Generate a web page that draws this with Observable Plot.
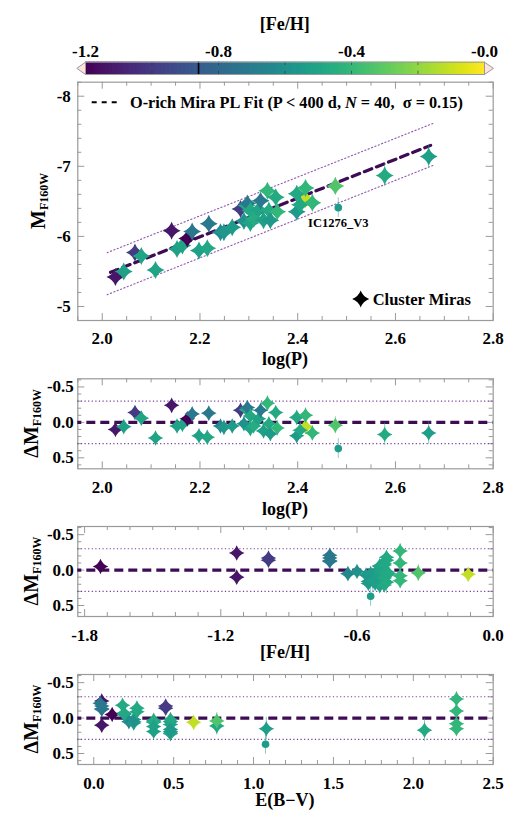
<!DOCTYPE html>
<html><head><meta charset="utf-8">
<script src="https://cdn.jsdelivr.net/npm/d3@7"></script>
<script src="https://cdn.jsdelivr.net/npm/@observablehq/plot@0.6"></script>
<style>
html,body{margin:0;padding:0;background:#fff;}
#root{position:relative;width:518px;height:822px;overflow:hidden;background:#fff;}
#root svg{position:absolute;left:0;}
</style></head><body><div id="root"></div>
<script>
// ---------------- data ----------------
const logP     = [2.416,2.027,2.044,2.067,2.080,2.109,2.142,2.153,2.164,2.174,2.184,2.198,2.215,2.218,2.242,2.249,2.266,2.283,2.290,2.295,2.297,2.303,2.303,2.310,2.320,2.324,2.330,2.338,2.341,2.344,2.355,2.358,2.398,2.398,2.405,2.416,2.430,2.477,2.578,2.668];
const magF160W = [-6.53,-5.42,-5.50,-5.77,-5.72,-5.52,-6.08,-5.82,-5.87,-5.97,-6.07,-5.80,-5.83,-6.18,-6.06,-6.06,-6.13,-6.39,-6.22,-6.44,-6.47,-6.37,-6.19,-6.25,-6.38,-6.51,-6.23,-6.65,-6.37,-6.23,-6.56,-6.35,-6.61,-6.35,-6.45,-6.69,-6.48,-6.72,-6.87,-7.14];
const dMag     = [0.06,0.10,0.06,-0.14,-0.06,0.22,-0.24,0.05,0.03,-0.05,-0.12,0.19,0.21,-0.13,0.05,0.07,0.05,-0.17,0.02,-0.18,-0.21,-0.09,0.09,0.05,-0.05,-0.17,0.12,-0.27,0.02,0.16,-0.14,0.08,-0.07,0.19,0.11,-0.10,0.15,0.04,0.17,0.15];
const feh      = [-0.11,-1.13,-0.52,-0.99,-0.50,-0.50,-1.13,-0.52,-0.50,-1.73,-0.72,-0.52,-0.48,-0.72,-0.64,-0.56,-0.54,-0.99,-0.60,-0.47,-0.72,-0.48,-0.50,-0.46,-0.50,-0.72,-0.52,-0.41,-0.47,-0.55,-0.47,-0.41,-0.48,-0.55,-0.48,-0.41,-0.41,-0.33,-0.47,-0.53];
const ebv      = [0.625,0.05,0.375,0.45,0.19,0.48,0.05,0.25,0.375,0.115,0.05,0.375,0.48,0.05,0.22,0.25,0.48,0.45,0.25,0.18,0.04,0.27,0.48,0.375,0.19,0.05,0.375,2.27,0.48,0.48,0.27,2.27,0.19,0.48,0.77,2.27,2.27,0.77,2.07,1.08];
const magErr   = [0.08,0.08,0.08,0.08,0.08,0.08,0.08,0.08,0.08,0.08,0.08,0.08,0.08,0.08,0.08,0.08,0.08,0.08,0.08,0.08,0.08,0.08,0.08,0.08,0.08,0.08,0.08,0.10,0.08,0.08,0.08,0.10,0.08,0.08,0.13,0.10,0.10,0.12,0.16,0.16];

const icName = "IC1276_V3";
const icLogP = 2.483, icMag = -6.41, icDMag = 0.37, icFeh = -0.54, icEbv = 1.075, icErr = 0.14;

// PL fit (P < 400 d, N = 40, sigma = 0.15)
const fitPivot = 2.3, fitZero = -6.27, fitSlope = -2.765, fitBand = 0.3;
const fitLogP = [2.017, 2.672];
const bandLogP = [2.01, 2.68];

// axes
const logPTicks = [2.0, 2.2, 2.4, 2.6, 2.8];
const magTicks = [-8, -7, -6, -5];
const resTicks = [-0.5, 0.0, 0.5];
const fehTicks = [-1.8, -1.2, -0.6, 0.0];
const ebvTicks = [0.0, 0.5, 1.0, 1.5, 2.0, 2.5];
const cbarTicks = [-1.2, -0.8, -0.4, 0.0];
const cbarMark = -0.86;

// ---------------- helpers ----------------
const SERIF = "'Liberation Serif','Times New Roman',serif";
const FRAME = "#9a9a9a";
const W = 518, ML = 77.3, MR = 25.3, FW = W - ML - MR;
const colorScale = {type: "linear", scheme: "viridis", domain: [-1.2, 0], clamp: true};
const baseStyle = {fontFamily: SERIF, fontWeight: "bold", fontSize: "17px", color: "black", background: "transparent", overflow: "visible"};

const stars = logP.map((p, i) => ({logP: p, mag: magF160W[i], dMag: dMag[i], feh: feh[i], ebv: ebv[i], err: magErr[i]}));
const ic = [{logP: icLogP, mag: icMag, dMag: icDMag, feh: icFeh, ebv: icEbv, err: icErr, name: icName}];

const star4 = {
  draw(ctx, size) {
    const r = Math.sqrt(size / Math.PI), k = 0.27 * r;
    ctx.moveTo(0, -r);
    ctx.quadraticCurveTo(k, -k, r, 0);
    ctx.quadraticCurveTo(k, k, 0, r);
    ctx.quadraticCurveTo(-k, k, -r, 0);
    ctx.quadraticCurveTo(-k, -k, 0, -r);
    ctx.closePath();
  }
};

function minor(domain, step, majors) {
  const lo = Math.min(...domain), hi = Math.max(...domain);
  const out = [];
  for (let v = Math.ceil(lo / step - 1e-9) * step; v <= hi + 1e-9; v += step) {
    const r = Math.round(v * 1000) / 1000;
    if (!majors.some(m => Math.abs(m - r) < 1e-6)) out.push(r);
  }
  return out;
}

function frameTicks(xMaj, xMin, yMaj, yMin, fh) {
  const L = 7, l = 4, o = {stroke: FRAME, strokeWidth: 1};
  return [
    Plot.tickX(xMaj, {...o, insetTop: fh - L}), Plot.tickX(xMaj, {...o, insetBottom: fh - L}),
    Plot.tickX(xMin, {...o, insetTop: fh - l}), Plot.tickX(xMin, {...o, insetBottom: fh - l}),
    Plot.tickY(yMaj, {...o, insetRight: FW - L}), Plot.tickY(yMaj, {...o, insetLeft: FW - L}),
    Plot.tickY(yMin, {...o, insetRight: FW - l}), Plot.tickY(yMin, {...o, insetLeft: FW - l}),
    Plot.frame({stroke: FRAME, strokeWidth: 1.2})
  ];
}

function addText(svg, x, y, parts, size, opts = {}) {
  const t = d3.select(svg).append("text")
    .attr("font-family", SERIF).attr("font-weight", "bold")
    .attr("font-size", size).attr("text-anchor", opts.anchor || "middle")
    .attr("fill", "black").style("white-space", "pre");
  if (opts.rotate) t.attr("transform", `translate(${x},${y}) rotate(-90)`);
  else t.attr("x", x).attr("y", y);
  for (const p of parts) {
    const s = t.append("tspan").text(p.text);
    if (p.size) s.attr("font-size", p.size);
    if (p.italic) s.attr("font-style", "italic");
    if (p.dy) s.attr("dy", p.dy);
  }
}

const root = document.getElementById("root");
function place(svg, top) { svg.style.top = top + "px"; root.appendChild(svg); }

// ---------------- colour bar ----------------
const cbStep = 0.004;
const cbCells = d3.range(-1.2, 0 - 1e-9, cbStep);
const cbar = Plot.plot({
  width: W, height: 80, marginLeft: 85, marginRight: 34, marginTop: 61.7, marginBottom: 6,
  style: baseStyle,
  x: {domain: [-1.2, 0]}, y: {domain: [0, 1], axis: null},
  color: colorScale,
  marks: [
    Plot.rect(cbCells, {x1: d => d, x2: d => Math.min(0, d + cbStep * 1.6), y1: 0, y2: 1, fill: d => d + cbStep / 2}),
    Plot.line([[-1.2, 0], [-1.226, 0.5], [-1.2, 1]], {x: d => d[0], y: d => d[1], fill: "#fde2de", stroke: FRAME, strokeWidth: 1}),
    Plot.line([[0, 0], [0.027, 0.5], [0, 1]], {x: d => d[0], y: d => d[1], fill: "#fde2de", stroke: FRAME, strokeWidth: 1}),
    Plot.tickX(minor([-1.2, 0], 0.2, [-1.2, 0]), {stroke: "#333", strokeOpacity: 0.6, insetTop: 9}),
    Plot.tickX(minor([-1.2, 0], 0.2, [-1.2, 0]), {stroke: "#333", strokeOpacity: 0.6, insetBottom: 9}),
    Plot.ruleX([cbarMark], {stroke: "black", strokeWidth: 1.6}),
    Plot.frame({stroke: FRAME, strokeWidth: 1}),
    Plot.axisX(cbarTicks, {anchor: "top", tickSize: 0, tickPadding: 5, label: null,
      tickFormat: d => d === 0 ? "-0.0" : d.toFixed(1)})
  ]
});
addText(cbar, 284.7, 29.5, [{text: "[Fe/H]"}], 18);
place(cbar, 0);

// ---------------- main PL panel ----------------
const MAIN_TOP = 70, mainMT = 11.7, mainFH = 238.3;
const fitY = d => fitZero + fitSlope * (d - fitPivot);
const main = Plot.plot({
  width: W, height: mainMT + mainFH + 54, marginTop: mainMT, marginBottom: 54, marginLeft: ML, marginRight: MR,
  style: baseStyle,
  x: {domain: [1.95, 2.8]}, y: {domain: [-4.8, -8.2]},
  color: colorScale,
  marks: [
    ...frameTicks(logPTicks, minor([1.95, 2.8], 0.05, logPTicks), magTicks, minor([-4.8, -8.2], 0.2, magTicks), mainFH),
    Plot.axisX(logPTicks, {tickSize: 0, tickPadding: 11, label: null, tickFormat: d => d.toFixed(1)}),
    Plot.axisY(magTicks, {tickSize: 0, tickPadding: 7, label: null, tickFormat: d => String(d)}),
    Plot.line(bandLogP, {x: d => d, y: d => fitY(d) - fitBand, stroke: "#8f55b0", strokeWidth: 1.1, strokeDasharray: "1.2,2.4"}),
    Plot.line(bandLogP, {x: d => d, y: d => fitY(d) + fitBand, stroke: "#8f55b0", strokeWidth: 1.1, strokeDasharray: "1.2,2.4"}),
    Plot.line(fitLogP, {x: d => d, y: fitY, stroke: "#3e0b55", strokeWidth: 3.2, strokeDasharray: "8,5"}),
    Plot.ruleX(stars, {x: "logP", y1: d => d.mag - d.err, y2: d => d.mag + d.err, stroke: "feh", strokeOpacity: 0.55}),
    Plot.dot(stars, {x: "logP", y: "mag", symbol: star4, r: 9, fill: "feh", stroke: null}),
    Plot.ruleX(ic, {x: "logP", y1: d => d.mag - d.err, y2: d => d.mag + d.err, stroke: "feh", strokeOpacity: 0.5}),
    Plot.dot(ic, {x: "logP", y: "mag", r: 3.8, fill: "feh", stroke: null}),
    Plot.text(ic, {x: "logP", y: "mag", text: "name", dy: 15, fontSize: 12.5, fontWeight: "bold", fill: "black"})
  ]
});
{
  const s = d3.select(main), T = MAIN_TOP;
  s.append("line").attr("x1", 91.7).attr("x2", 116.7).attr("y1", 102.3 - T).attr("y2", 102.3 - T)
    .attr("stroke", "black").attr("stroke-width", 2).attr("stroke-dasharray", "5,5");
  addText(main, 130, 107.5 - T, [{text: "O-rich Mira PL Fit (P < 400 d, "}, {text: "N", italic: true}, {text: " = 40,  σ = 0.15)"}], 16.3, {anchor: "start"});
  s.append("path").attr("d", d3.symbol().type(star4).size(Math.PI * 8.5 * 8.5)())
    .attr("transform", `translate(360.7,${299 - T})`).attr("fill", "black");
  addText(main, 372.7, 305 - T, [{text: "Cluster Miras"}], 16.5, {anchor: "start"});
  addText(main, 45, mainMT + mainFH / 2, [{text: "M"}, {text: "F160W", size: 12, dy: 3}], 20, {rotate: true});
  addText(main, ML + FW / 2, mainMT + mainFH + 45, [{text: "log(P)"}], 18);
}
place(main, MAIN_TOP);

// ---------------- residual panels ----------------
const resDomain = [0.655, -0.615];
function residualPanel(top, mt, xKey, xDomain, xTicks, xMinorStep, xLabel, labelGap) {
  const FH = 90;
  const svg = Plot.plot({
    width: W, height: mt + FH + 56, marginTop: mt, marginBottom: 56, marginLeft: ML, marginRight: MR,
    style: baseStyle,
    x: {domain: xDomain}, y: {domain: resDomain},
    color: colorScale,
    marks: [
      ...frameTicks(xTicks, minor(xDomain, xMinorStep, xTicks), resTicks, minor(resDomain, 0.1, resTicks), FH),
      Plot.axisX(xTicks, {tickSize: 0, tickPadding: 12, label: null, tickFormat: d => d.toFixed(1)}),
      Plot.axisY(resTicks, {tickSize: 0, tickPadding: 4, label: null, tickFormat: d => d.toFixed(1)}),
      Plot.ruleY([-fitBand, fitBand], {stroke: "#7a3c9c", strokeWidth: 1.1, strokeDasharray: "1.2,2.4"}),
      Plot.ruleY([0], {stroke: "#3e0b55", strokeWidth: 3.2, strokeDasharray: "9,5", strokeDashoffset: -9}),
      Plot.ruleX(stars, {x: xKey, y1: d => d.dMag - d.err, y2: d => d.dMag + d.err, stroke: "feh", strokeOpacity: 0.55}),
      Plot.dot(stars, {x: xKey, y: "dMag", symbol: star4, r: 7.8, fill: "feh", stroke: null}),
      Plot.ruleX(ic, {x: xKey, y1: d => d.dMag - d.err, y2: d => d.dMag + d.err, stroke: "feh", strokeOpacity: 0.5}),
      Plot.dot(ic, {x: xKey, y: "dMag", r: 3.8, fill: "feh", stroke: null})
    ]
  });
  addText(svg, 38, mt + FH / 2, [{text: "ΔM"}, {text: "F160W", size: 12, dy: 3}], 20, {rotate: true});
  addText(svg, ML + FW / 2, mt + FH + labelGap, [{text: xLabel}], 18);
  place(svg, top);
}
residualPanel(370, 8.3, "logP", [1.95, 2.8], logPTicks, 0.05, "log(P)", 47);
residualPanel(518, 8, "feh", [-1.83, 0], fehTicks, 0.1, "[Fe/H]", 42);
residualPanel(667, 7, "ebv", [-0.1, 2.5], ebvTicks, 0.1, "E(B−V)", 42);
</script>
</body></html>
